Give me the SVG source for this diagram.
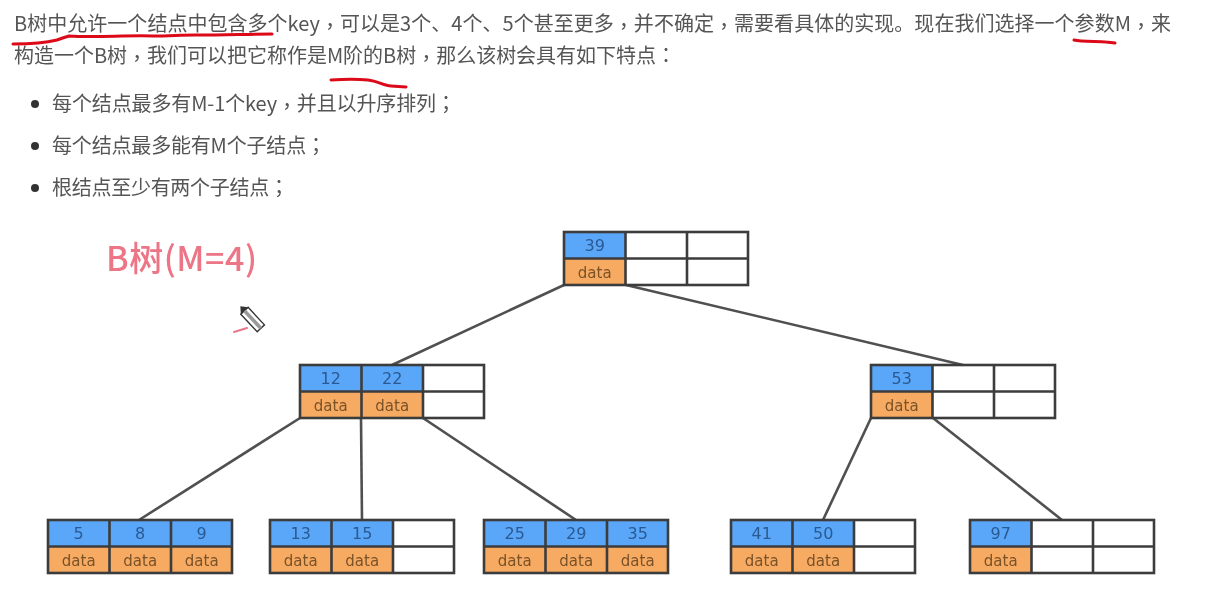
<svg xmlns="http://www.w3.org/2000/svg" width="1208" height="589" viewBox="0 0 1208 589">
<defs>
<filter id="soft" x="-5%" y="-20%" width="110%" height="140%"><feGaussianBlur stdDeviation="0.45"/></filter>
<g id="grid"><rect x="0" y="0" width="184" height="53" fill="none" stroke="#3c3c3c" stroke-width="2.600"/><path d="M0 26.500H184M61.500 0V53M123 0V53" fill="none" stroke="#3c3c3c" stroke-width="2.600"/></g>
</defs>
<style>
.t{font-family:"Noto Sans CJK SC","Noto Sans",sans-serif;font-size:20px;fill:#555}
.p{font-family:"Noto Sans CJK TC",sans-serif}
.k,.d{font-family:"DejaVu Sans",sans-serif;text-anchor:middle;filter:url(#soft)}
.k{fill:#2a5a92;font-size:16px}
.d{fill:#7a5228;font-size:15px}
.b{fill:#5aa6f8}
.o{fill:#f7aa62}
.red{fill:none;stroke:#dc0a18;stroke-width:3;stroke-linecap:round;stroke-linejoin:round}
.c{fill:none;stroke:#505050;stroke-width:2.600}
</style>
<rect width="1208" height="589" fill="#fff"/>
<g id="text" filter="url(#soft)">
<text class="t" x="14" y="31" textLength="1157" lengthAdjust="spacing">B树中允许一个结点中包含多个key<tspan class="p" dy="2.500">，</tspan><tspan dy="-2.500">可</tspan>以是3个、4个、5个甚至更多<tspan class="p" dy="2.500">，</tspan><tspan dy="-2.500">并</tspan>不确定<tspan class="p" dy="2.500">，</tspan><tspan dy="-2.500">需</tspan>要看具体的实现。现在我们选择一个参数M<tspan class="p" dy="2.500">，</tspan><tspan dy="-2.500">来</tspan></text>
<text class="t" x="14" y="63" textLength="662" lengthAdjust="spacing">构造一个B树<tspan class="p" dy="2.500">，</tspan><tspan dy="-2.500">我</tspan>们可以把它称作是M阶的B树<tspan class="p" dy="2.500">，</tspan><tspan dy="-2.500">那</tspan>么该树会具有如下特点<tspan class="p">：</tspan></text>
<circle cx="35" cy="104" r="4" fill="#333"/>
<text class="t" x="52" y="111" textLength="404" lengthAdjust="spacing">每个结点最多有M-1个key<tspan class="p" dy="2.500">，</tspan><tspan dy="-2.500">并</tspan>且以升序排列<tspan class="p">；</tspan></text>
<circle cx="35" cy="146" r="4" fill="#333"/>
<text class="t" x="52" y="153" textLength="274" lengthAdjust="spacing">每个结点最多能有M个子结点<tspan class="p">；</tspan></text>
<circle cx="35" cy="188" r="4" fill="#333"/>
<text class="t" x="52" y="195" textLength="237" lengthAdjust="spacing">根结点至少有两个子结点<tspan class="p">；</tspan></text>
<text x="106" y="271" font-family="'Noto Sans CJK SC','Noto Sans',sans-serif" font-size="34" font-weight="500" fill="#ec7486" textLength="151" lengthAdjust="spacing">B树(M=4)</text>
</g>
<g id="annotations">
<path class="red" d="M13 44C30 44 45 43 57 40C62 38 65 37 69 36C95 38 125 35 153 36C170 36 180 35 195 35C225 35 250 34 272 34"/>
<path class="red" d="M331 80C345 79 358 79 368 80C378 81 384 86 391 86L406 87"/>
<path class="red" d="M1074 40C1082 42 1100 41 1106 42L1115 43"/>
<path d="M234 332L247 328" fill="none" stroke="#e8788a" stroke-width="2" stroke-linecap="round"/>
<g transform="translate(254 321) rotate(47)">
<rect x="-14" y="-5" width="24" height="10" fill="#fff" stroke="#333" stroke-width="1.400"/>
<rect x="-14" y="-1.800" width="24" height="3.600" fill="#999"/>
<path d="M-14 -5L-20 0L-14 5Z" fill="#333"/>
</g>
</g>
<g id="connectors">
<path class="c" d="M564 285L392 365"/>
<path class="c" d="M626 285L963 365"/>
<path class="c" d="M300 418L139 520"/>
<path class="c" d="M361 418L362 520"/>
<path class="c" d="M423 418L576 520"/>
<path class="c" d="M871 418L823 520"/>
<path class="c" d="M933 418L1062 520"/>
</g>
<g id="node-39" transform="translate(564 232)"><rect class="b" width="61.500" height="26.500"/><rect class="o" y="26.500" width="61.500" height="26.500"/><use href="#grid"/><text class="k" x="30.700" y="19">39</text><text class="d" x="30.700" y="45.500">data</text></g>
<g id="node-12-22" transform="translate(300 365)"><rect class="b" width="123" height="26.500"/><rect class="o" y="26.500" width="123" height="26.500"/><use href="#grid"/><text class="k" x="30.700" y="19">12</text><text class="k" x="92.200" y="19">22</text><text class="d" x="30.700" y="45.500">data</text><text class="d" x="92.200" y="45.500">data</text></g>
<g id="node-53" transform="translate(871 365)"><rect class="b" width="61.500" height="26.500"/><rect class="o" y="26.500" width="61.500" height="26.500"/><use href="#grid"/><text class="k" x="30.700" y="19">53</text><text class="d" x="30.700" y="45.500">data</text></g>
<g id="node-5-8-9" transform="translate(48 520)"><rect class="b" width="184" height="26.500"/><rect class="o" y="26.500" width="184" height="26.500"/><use href="#grid"/><text class="k" x="30.700" y="19">5</text><text class="k" x="92.200" y="19">8</text><text class="k" x="153.700" y="19">9</text><text class="d" x="30.700" y="45.500">data</text><text class="d" x="92.200" y="45.500">data</text><text class="d" x="153.700" y="45.500">data</text></g>
<g id="node-13-15" transform="translate(270 520)"><rect class="b" width="123" height="26.500"/><rect class="o" y="26.500" width="123" height="26.500"/><use href="#grid"/><text class="k" x="30.700" y="19">13</text><text class="k" x="92.200" y="19">15</text><text class="d" x="30.700" y="45.500">data</text><text class="d" x="92.200" y="45.500">data</text></g>
<g id="node-25-29-35" transform="translate(484 520)"><rect class="b" width="184" height="26.500"/><rect class="o" y="26.500" width="184" height="26.500"/><use href="#grid"/><text class="k" x="30.700" y="19">25</text><text class="k" x="92.200" y="19">29</text><text class="k" x="153.700" y="19">35</text><text class="d" x="30.700" y="45.500">data</text><text class="d" x="92.200" y="45.500">data</text><text class="d" x="153.700" y="45.500">data</text></g>
<g id="node-41-50" transform="translate(731 520)"><rect class="b" width="123" height="26.500"/><rect class="o" y="26.500" width="123" height="26.500"/><use href="#grid"/><text class="k" x="30.700" y="19">41</text><text class="k" x="92.200" y="19">50</text><text class="d" x="30.700" y="45.500">data</text><text class="d" x="92.200" y="45.500">data</text></g>
<g id="node-97" transform="translate(970 520)"><rect class="b" width="61.500" height="26.500"/><rect class="o" y="26.500" width="61.500" height="26.500"/><use href="#grid"/><text class="k" x="30.700" y="19">97</text><text class="d" x="30.700" y="45.500">data</text></g>
</svg>
